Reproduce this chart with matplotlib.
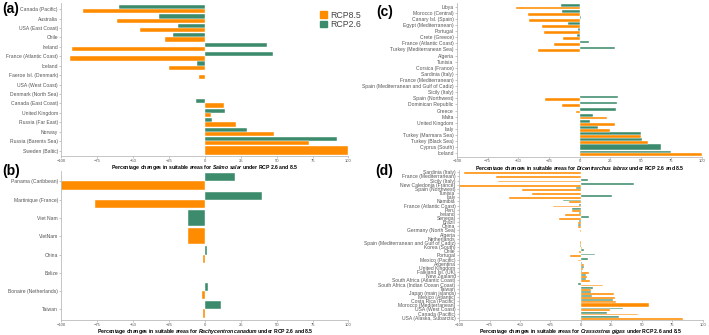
import numpy as np
import matplotlib
matplotlib.use('Agg')
import matplotlib.pyplot as plt
from matplotlib.patches import Patch

plt.rcParams['font.family'] = ['Liberation Sans', 'DejaVu Sans']
plt.rcParams['mathtext.fontset'] = 'custom'
plt.rcParams['mathtext.it'] = 'Liberation Sans:italic:bold'

nan = np.nan

# (a) Salmo salar
cats_a = ['Canada (Pacific)', 'Australia', 'USA (East Coast)', 'Chile', 'Ireland',
          'France (Atlantic Coast)', 'Iceland', 'Faeroe Isl. (Denmark)', 'USA (West Coast)',
          'Denmark (North Sea)', 'Canada (East Coast)', 'United Kingdom', 'Russia (Far East)',
          'Norway', 'Russia (Barents Sea)', 'Sweden (Baltic)']
rcp26_a = [-60, -32, -19, -22, 43, 47.5, -5.4, 0.3, nan, nan, -6.6, 14, 5.2, 29, 92, nan]
rcp85_a = [-85, -61, -45, -28, -93, -94, -25, -4.2, nan, nan, 13.5, 4, 21.5, 48, 72.5, 100]

# (b) Rachycentron canadum
cats_b = ['Panama (Caribbean)', 'Martinique (France)', 'Viet Nam', 'VietNam', 'China',
          'Belize', 'Bonaire (Netherlands)', 'Taiwan']
rcp26_b = [21, 40, -12, nan, 1.2, nan, 2.3, 11]
rcp85_b = [-100, -76.5, nan, -11.5, -1.2, nan, -2.3, -1.2]

# (c) Dicentrarchus labrax
cats_c = ['Libya', 'Morocco (Central)', 'Canary Isl. (Spain)', 'Egypt (Mediterranean)',
          'Portugal', 'Crete (Greece)', 'France (Atlantic Coast)', 'Turkey (Mediterranean Sea)',
          'Algeria', 'Tunisia', 'Corsica (France)', 'Sardinia (Italy)', 'France (Mediterranean)',
          'Spain (Mediterranean and Gulf of Cadiz)', 'Sicily (Italy)', 'Spain (Northwest)',
          'Dominican Republic', 'Greece', 'Malta', 'United Kingdom', 'Italy',
          'Turkey (Marmara Sea)', 'Turkey (Black Sea)', 'Cyprus (South)', 'Iceland']
rcp26_c = [-15, -14, 1, -9.3, -1.6, -2, 7.4, 28.6, nan, nan, nan, nan, nan, nan, 0.5,
           31.6, 30.2, 30, 10.6, 8.7, 15.3, 50, 51.2, 66.8, 75]
rcp85_c = [-52, -41.7, -41, -30.5, -29, -13.6, -20.7, -33.5, nan, nan, nan, nan, nan, nan, nan,
           -27.8, -14.2, -2.7, 22.6, 28.9, 25, 50, 56, nan, 100]

# (d) Crassostrea gigas
cats_d = ['Sardinia (Italy)', 'France (Mediterranean)', 'Sicily (Italy)', 'New Caledonia (France)',
          'Spain (Northwest)', 'Tunisia', 'Italy', 'Namibia', 'France (Atlantic Coast)', 'Peru',
          'Ireland', 'Senegal', 'Brazil', 'China', 'Germany (North Sea)', 'Algeria', 'Netherlands',
          'Spain (Mediterranean and Gulf of Cadiz)', 'Korea (South)', 'Chile', 'Portugal',
          'Mexico (Pacific)', 'Argentina', 'United Kingdom', 'Falkland Isl. (UK)', 'New Zealand',
          'South Africa (Atlantic Coast)', 'South Africa (Indian Ocean Coast)', 'Taiwan',
          'Japan (main islands)', 'Mexico (Atlantic)', 'Costa Rica (Pacific)',
          'Morocco (Mediterranean)', 'USA (West Coast)', 'Canada (Pacific)',
          'USA (Alaska, Subarctic)']
rcp26_d = [0, 0, 5.5, 43.3, -4.5, 0, 25.2, -14.5, -1.4, -7.4, -1.4, 6.8, -1.4, -2.2, 0, nan, nan,
           nan, -0.5, 2.7, 11.5, 5.5, 1.1, 2.2, 0.5, 4.1, 4.1, -2.2, 9.6, 8.2, 8.8, 26,
           nan, 34.2, 21.4, 31.5]
rcp85_d = [-95.9, -69.9, -67.7, -100, -48, -40.5, -59, -10, -22.7, -7.4, -12.9, -18.4, -2.5, -2.2,
           -1.1, -0.3, nan, -0.5, 0.8, -1.4, -9, -2.2, 2.2, 2, 6.8, 4.9, 7.1, 17.8, 8.2, 27.4,
           28, 28.8, 55.6, 24.1, 46.6, 83.6]

orange = '#FF8C00'
green = '#3D8B6D'
ticks = [-100, -75, -50, -25, 0, 25, 50, 75, 100]

fig = plt.figure(figsize=(7.09, 3.35), dpi=100)


def draw(rect, cats, g, o, species):
    ax = fig.add_axes(rect)
    n = len(cats)
    w = 0.9
    gy, gh, gv, oy, oh, ov = [], [], [], [], [], []
    for i in range(n):
        y = n - 1 - i
        hasg = not np.isnan(g[i])
        haso = not np.isnan(o[i])
        if hasg and haso:
            gy.append(y + w / 4); gh.append(w / 2); gv.append(g[i])
            oy.append(y - w / 4); oh.append(w / 2); ov.append(o[i])
        elif hasg:
            gy.append(y); gh.append(w); gv.append(g[i])
        elif haso:
            oy.append(y); oh.append(w); ov.append(o[i])
    ax.barh(gy, gv, height=gh, color=green, edgecolor='white', linewidth=0.3)
    ax.barh(oy, ov, height=oh, color=orange, edgecolor='white', linewidth=0.3)
    ax.set_yticks(range(n))
    ax.set_yticklabels(cats[::-1])
    ax.set_ylim(-0.6, n - 0.4)
    ax.set_xlim(-100, 100)
    ax.set_xticks(ticks)
    for s in ['top', 'right']:
        ax.spines[s].set_visible(False)
    for s in ['left', 'bottom']:
        ax.spines[s].set_color('#bbbbbb')
        ax.spines[s].set_linewidth(0.6)
    ax.tick_params(axis='y', length=1.5, width=0.4, color='#999999', labelsize=3.6,
                   labelcolor='#555555', pad=1)
    ax.tick_params(axis='x', length=1.2, width=0.4, color='#999999', labelsize=3.0,
                   labelcolor='#555555', pad=0.5)
    sp = r'$\mathit{' + species.replace(' ', r'\ ') + '}$'
    ax.set_xlabel('Percentage changes in suitable areas for ' + sp + ' under RCP 2.6 and 8.5',
                  fontsize=3.7, fontweight='bold', labelpad=0.3)
    return ax


draw([0.0867, 0.5334, 0.4048, 0.4564], cats_a, rcp26_a, rcp85_a, 'Salmo salar')
draw([0.0867, 0.0440, 0.4048, 0.4470], cats_b, rcp26_b, rcp85_b, 'Rachycentron canadum')
draw([0.6446, 0.5313, 0.3456, 0.4597], cats_c, rcp26_c, rcp85_c, 'Dicentrarchus labrax')
draw([0.6474, 0.0440, 0.3441, 0.4491], cats_d, rcp26_d, rcp85_d, 'Crassostrea gigas')

for lab, x, y in [('(a)', 0.003, 0.995), ('(b)', 0.003, 0.51), ('(c)', 0.531, 0.985), ('(d)', 0.529, 0.51)]:
    fig.text(x, y, lab, fontsize=10, fontweight='bold', va='top', ha='left')

handles = [Patch(color=orange, label='RCP8.5'), Patch(color=green, label='RCP2.6')]
fig.legend(handles=handles, loc='upper left', bbox_to_anchor=(0.451, 0.968), frameon=False,
           fontsize=6.3, handlelength=0.8, handleheight=0.8, handletextpad=0.35,
           labelspacing=0.05, labelcolor='#444444', borderpad=0, borderaxespad=0)

fig.savefig('out.png', dpi=100)
